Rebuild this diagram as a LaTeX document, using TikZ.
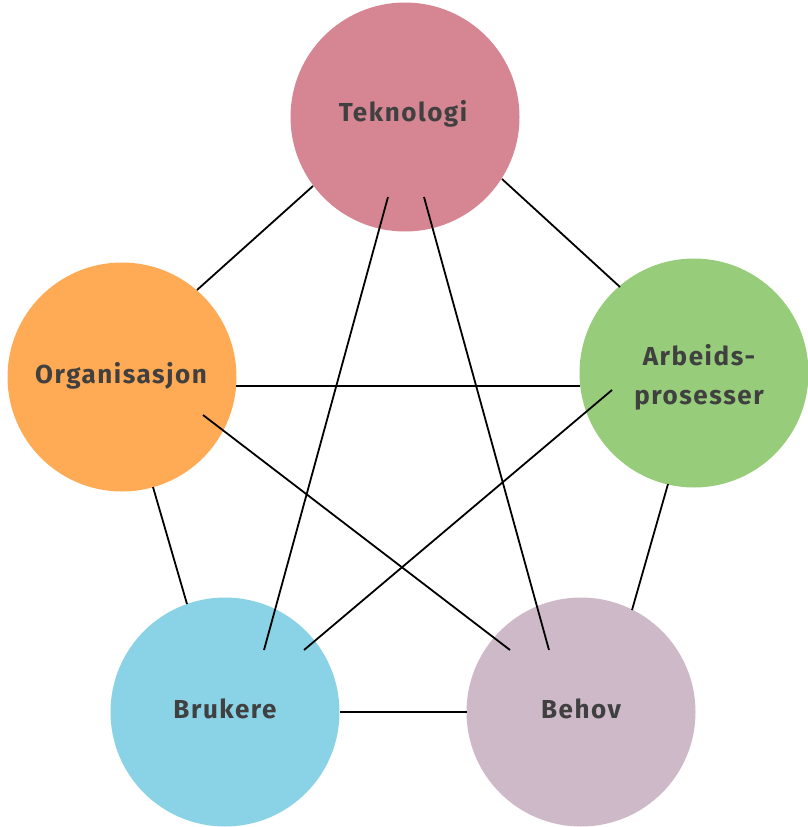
\documentclass[tikz,border=0pt]{standalone}
\usepackage{fontspec}
\setmainfont{Fira Sans}[LetterSpace=6]
\usetikzlibrary{calc}
\definecolor{ctek}{HTML}{D68692}
\definecolor{corg}{HTML}{FFAA55}
\definecolor{carb}{HTML}{96CC7A}
\definecolor{cbru}{HTML}{8AD2E5}
\definecolor{cbeh}{HTML}{CDB9C7}
\definecolor{ctxt}{HTML}{404040}
\begin{document}
\begin{tikzpicture}[x=1pt,y=-1pt,
  bubble/.style={circle,minimum size=229pt,inner sep=0pt,draw=none},
  lbl/.style={text=ctxt,font=\fontsize{26}{39}\selectfont\bfseries,align=center},
  link/.style={line width=1.8pt,black}]
\useasboundingbox (0,0) rectangle (808,827);
\node[bubble,fill=ctek] (T) at (405,117) {};
\node[bubble,fill=corg] (O) at (122,377) {};
\node[bubble,fill=carb] (A) at (694,373) {};
\node[bubble,fill=cbru] (B) at (225,712) {};
\node[bubble,fill=cbeh] (H) at (581,712) {};
\draw[link] ($(T)+(-92,69)$) -- ($(O)+(75,-87)$);
\draw[link] ($(T)+(97,62)$) -- ($(A)+(-74,-86)$);
\draw[link] ($(T)+(-17,80)$) -- ($(B)+(39,-62)$);
\draw[link] ($(T)+(19,80)$) -- ($(H)+(-32,-62)$);
\draw[link] ($(O)+(114,9)$) -- ($(A)+(-114,13)$);
\draw[link] ($(O)+(81,38)$) -- ($(H)+(-71,-62)$);
\draw[link] ($(O)+(31,110)$) -- ($(B)+(-38,-108)$);
\draw[link] ($(A)+(-82,17)$) -- ($(B)+(79,-62)$);
\draw[link] ($(A)+(-26,111)$) -- ($(H)+(51,-102)$);
\draw[link] ($(B)+(115,0)$) -- ($(H)+(-114,0)$);
\node[lbl] (tT) at ($(T)+(-2,-3)$) {Teknologi};
\node[lbl] (tO) at ($(O)+(-1,-1)$) {Organisasjon};
\node[lbl] (tA) at ($(A)+(5,4)$) {Arbeids-\\prosesser};
\node[lbl] (tB) at ($(B)+(0,-3)$) {Brukere};
\node[lbl] (tH) at ($(H)+(0,-3)$) {Behov};
\end{tikzpicture}
\end{document}
